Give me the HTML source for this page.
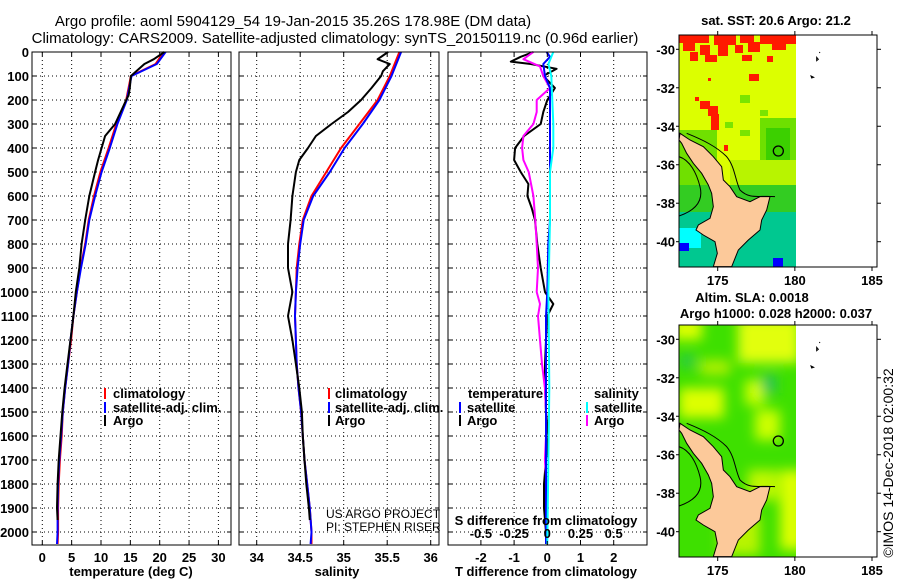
<!DOCTYPE html>
<html><head><meta charset="utf-8"><style>
html,body{margin:0;padding:0;background:#fff;}
svg{display:block;font-family:"Liberation Sans",sans-serif;}
.t{font-size:13px;font-weight:bold;fill:#000;}
.ttl{font-size:15px;fill:#000;}
</style></head><body>
<svg id="fig" width="900" height="580" viewBox="0 0 900 580" xmlns="http://www.w3.org/2000/svg">
<defs>
<clipPath id="mapclip1"><rect x="679" y="35" width="117" height="232"/></clipPath>
<clipPath id="mapclip2"><rect x="679" y="325" width="117" height="232"/></clipPath>
<filter id="blur" x="-20%" y="-20%" width="140%" height="140%"><feGaussianBlur stdDeviation="6"/></filter>
</defs>
<text class="ttl" x="293" y="26" text-anchor="middle">Argo profile: aoml 5904129_54 19-Jan-2015 35.26S 178.98E (DM data)</text>
<text class="ttl" x="335" y="43" text-anchor="middle">Climatology: CARS2009. Satellite-adjusted climatology: synTS_20150119.nc (0.96d earlier)</text>

<g id="grids"></g>
<g id="series"></g>
<g id="axes"></g>

<g>
<rect x="104" y="388" width="2" height="11" fill="#f00"/><text class="t" x="113" y="398">climatology</text>
<rect x="104" y="402" width="2" height="11" fill="#00f"/><text class="t" x="113" y="412">satellite-adj. clim.</text>
<rect x="104" y="415" width="2" height="11" fill="#000"/><text class="t" x="113" y="425">Argo</text>
</g>
<g>
<rect x="328" y="388" width="2" height="11" fill="#f00"/><text class="t" x="335" y="398">climatology</text>
<rect x="328" y="402" width="2" height="11" fill="#00f"/><text class="t" x="335" y="412">satellite-adj. clim.</text>
<rect x="328" y="415" width="2" height="11" fill="#000"/><text class="t" x="335" y="425">Argo</text>
</g>
<text x="326" y="518" style="font-size:12px">US ARGO PROJECT</text>
<text x="326" y="531" style="font-size:12px">PI: STEPHEN RISER</text>
<g>
<text class="t" x="468" y="398">temperature</text>
<rect x="459" y="402" width="2" height="11" fill="#00f"/><text class="t" x="467" y="412">satellite</text>
<rect x="459" y="415" width="2" height="11" fill="#000"/><text class="t" x="467" y="425">Argo</text>
<text class="t" x="594" y="398">salinity</text>
<rect x="586" y="402" width="2" height="11" fill="#0ff"/><text class="t" x="594" y="412">satellite</text>
<rect x="586" y="415" width="2" height="11" fill="#f0f"/><text class="t" x="594" y="425">Argo</text>
</g>

<text class="t" x="776" y="25" text-anchor="middle">sat. SST: 20.6 Argo: 21.2</text>
<g clip-path="url(#mapclip1)">
<rect x="679" y="35" width="117" height="232" fill="#dcff00"/>
<g fill="#ff1a00">
<rect x="679" y="35" width="30" height="8"/><rect x="714" y="35" width="22" height="10"/><rect x="740" y="35" width="14" height="8"/><rect x="760" y="35" width="36" height="9"/>
<rect x="683" y="43" width="12" height="8"/><rect x="700" y="45" width="10" height="10"/><rect x="718" y="44" width="10" height="12"/><rect x="735" y="45" width="8" height="8"/><rect x="748" y="42" width="12" height="10"/><rect x="772" y="44" width="14" height="6"/>
<rect x="690" y="52" width="8" height="9"/><rect x="705" y="55" width="12" height="7"/><rect x="742" y="55" width="10" height="6"/><rect x="767" y="56" width="6" height="6"/>
<rect x="749" y="74" width="10" height="7"/><rect x="708" y="78" width="3" height="3"/>
<rect x="700" y="101" width="10" height="8"/><rect x="708" y="106" width="10" height="10"/><rect x="711" y="114" width="8" height="16"/>
<rect x="695" y="97" width="4" height="4"/><rect x="724" y="145" width="4" height="6"/>
</g>
<g fill="#7ae400">
<rect x="740" y="95" width="10" height="8"/><rect x="725" y="122" width="8" height="6"/><rect x="760" y="110" width="8" height="6"/><rect x="740" y="130" width="10" height="6"/>
</g>
<rect x="760" y="118" width="36" height="52" fill="#6ee000"/>
<rect x="766" y="128" width="24" height="38" fill="#3cd000"/>
<rect x="679" y="130" width="38" height="60" fill="#70e000"/>
<rect x="730" y="160" width="66" height="30" fill="#b8f400"/>
<rect x="679" y="185" width="117" height="82" fill="#33cc22"/>
<rect x="679" y="212" width="117" height="55" fill="#00c890"/>
<rect x="679" y="228" width="22" height="20" fill="#00ffff"/>
<rect x="679" y="243" width="10" height="8" fill="#0000ff"/>
<rect x="773" y="258" width="10" height="9" fill="#0000ff"/>
<g transform="translate(660,0) scale(0.33333)">
<path d="M60,400 L90,420 L130,440 L160,470 L185,500 L190,540 L210,560 L230,590 L270,605 L300,590 L330,590 L320,630 L305,660 L300,690 L265,720 L235,750 L215,800 L160,800 L172,760 L165,725 L130,705 L108,690 L115,675 L150,655 L160,620 L155,580 L145,555 L125,520 L100,490 L80,460 L65,430 L57,420 Z" fill="#fcc99a" stroke="#000" stroke-width="3"/>
<path d="M57,470 C90,480 110,520 120,560 C130,600 110,630 57,648" fill="none" stroke="#000" stroke-width="3"/>
<path d="M80,400 C130,420 170,440 200,470 C225,500 225,540 240,570 C270,600 300,585 345,590" fill="none" stroke="#000" stroke-width="3"/>
<circle cx="355" cy="453" r="15" fill="none" stroke="#000" stroke-width="4"/>
</g>
</g>
<g transform="translate(660,0) scale(0.33333)">
<path d="M470,172 l5,6 l-5,4 z M478,156 l2,3 M453,228 l8,4 l-6,2 z" fill="none" stroke="#000" stroke-width="3"/>
</g>
<rect x="679" y="35" width="198" height="232" fill="none" stroke="#000"/>
<g id="mapaxes"></g>

<text class="t" x="752" y="302" text-anchor="middle">Altim. SLA: 0.0018</text>
<text class="t" x="776" y="318" text-anchor="middle">Argo h1000: 0.028 h2000: 0.037</text>
<g clip-path="url(#mapclip2)">
<rect x="679" y="325" width="117" height="232" fill="#3ee000"/>
<g filter="url(#blur)">
<rect x="672" y="318" width="30" height="22" fill="#ddff00"/>
<rect x="738" y="318" width="62" height="45" fill="#e2ff10"/>
<rect x="679" y="388" width="45" height="30" fill="#ddff00"/>
<rect x="745" y="380" width="20" height="25" fill="#ccff00"/>
<rect x="700" y="360" width="30" height="15" fill="#b0f000"/>
<rect x="780" y="470" width="25" height="80" fill="#ddff00"/>
<rect x="748" y="470" width="30" height="30" fill="#c0f800"/>
<rect x="720" y="515" width="40" height="40" fill="#b8f400"/>
<rect x="755" y="410" width="25" height="30" fill="#ccff00"/>
<rect x="762" y="375" width="14" height="18" fill="#20c060"/>
<rect x="680" y="355" width="15" height="12" fill="#28c850"/>
</g>
<g transform="translate(660,290) scale(0.33333)">
<path d="M60,400 L90,420 L130,440 L160,470 L185,500 L190,540 L210,560 L230,590 L270,605 L300,590 L330,590 L320,630 L305,660 L300,690 L265,720 L235,750 L215,800 L160,800 L172,760 L165,725 L130,705 L108,690 L115,675 L150,655 L160,620 L155,580 L145,555 L125,520 L100,490 L80,460 L65,430 L57,420 Z" fill="#fcc99a" stroke="#000" stroke-width="3"/>
<path d="M57,470 C90,480 110,520 120,560 C130,600 110,630 57,648" fill="none" stroke="#000" stroke-width="3"/>
<path d="M80,400 C130,420 170,440 200,470 C225,500 225,540 240,570 C270,600 300,585 345,590" fill="none" stroke="#000" stroke-width="3"/>
<circle cx="355" cy="453" r="15" fill="none" stroke="#000" stroke-width="4"/>
</g>
</g>
<g transform="translate(660,290) scale(0.33333)">
<path d="M470,172 l5,6 l-5,4 z M478,156 l2,3 M453,228 l8,4 l-6,2 z" fill="none" stroke="#000" stroke-width="3"/>
</g>
<rect x="679" y="325" width="198" height="232" fill="none" stroke="#000"/>
<text x="893" y="463" transform="rotate(-90 893 463)" text-anchor="middle" style="font-size:14px">©IMOS 14-Dec-2018 02:00:32</text>
</svg>
<script>
// ---- data ----
const climDepths=[0,50,100,200,300,400,500,600,700,800,900,1000,1100,1200,1300,1400,1500,1600,1700,1800,1900,2000,2050];
const tClim=[20.7,19.3,15.1,14.3,12.6,11.3,9.9,8.8,7.9,7.3,6.5,5.9,5.3,4.9,4.4,3.9,3.5,3.3,3.0,2.8,2.7,2.7,2.6];
const tSat=[21.0,19.5,15.2,14.4,12.8,11.5,10.1,9.0,8.0,7.4,6.6,5.9,5.3,4.8,4.4,3.9,3.5,3.2,2.9,2.7,2.6,2.6,2.5];
const tArgoDepths=[0,30,50,100,150,180,200,300,350,400,450,500,600,700,800,900,1000,1100,1200,1300,1400,1500,1600,1700,1800,1900,1950];
const tArgo=[20.8,19.0,17.4,15.1,14.9,14.7,14.3,12.4,10.7,10.1,9.5,9.0,8.0,7.3,6.7,6.3,5.7,5.3,4.8,4.3,3.8,3.4,3.1,2.8,2.6,2.5,2.6];
const sDepths=[0,100,200,300,400,500,600,700,800,900,1000,1100,1200,1300,1400,1500,1600,1700,1800,1900,2000,2050];
const sClim=[35.64,35.53,35.39,35.18,34.97,34.80,34.63,34.53,34.49,34.46,34.45,34.44,34.45,34.46,34.48,34.51,34.53,34.55,34.58,34.61,34.63,34.63];
const sSat=[35.66,35.55,35.41,35.22,35.01,34.84,34.65,34.54,34.50,34.47,34.45,34.44,34.45,34.46,34.48,34.51,34.53,34.55,34.58,34.61,34.63,34.62];
const sArgoDepths=[0,30,50,80,100,150,200,250,300,350,400,450,500,600,700,800,900,1000,1100,1200,1300,1400,1500,1600,1700,1800,1900,1950];
const sArgo=[35.51,35.39,35.53,35.45,35.43,35.32,35.20,35.05,34.86,34.68,34.59,34.49,34.45,34.41,34.39,34.36,34.36,34.41,34.36,34.41,34.45,34.49,34.52,34.53,34.55,34.57,34.60,34.61];
const dtArgoDepths=[0,20,40,50,70,100,150,200,250,300,350,400,450,500,550,600,650,700,800,900,1000,1050,1100,1200,1300,1400,1500,1600,1700,1800,1900,2000,2050];
const dtArgo=[-0.42,-0.8,-1.1,-0.5,0.28,-0.12,0.23,0,-0.12,-0.2,-0.7,-0.97,-1.0,-0.8,-0.57,-0.6,-0.47,-0.37,-0.3,-0.2,-0.07,0.18,0,-0.04,-0.07,-0.07,-0.04,0.03,-0.04,-0.1,-0.1,-0.04,-0.02];
const dtSatDepths=[0,20,50,100,150,200,400,700,800,1000,1100,2050];
const dtSat=[-0.02,0.08,-0.12,-0.07,0.08,0.08,0.08,0.08,0.03,0,-0.04,-0.04];
const dsSatDepths=[0,50,100,300,400,500,700,1000,1400,2050];
const dsSat=[0.045,0.008,0.03,0.045,0.045,0.02,0.02,0.008,0.015,0.0];
const dsArgoDepths=[0,30,60,100,150,200,250,300,350,400,450,500,600,700,800,900,1000,1050,1100,1200,1300,1400,1500,1600,1700,1800,1900,2000];
const dsArgo=[-0.105,-0.18,-0.055,-0.03,0.02,-0.08,-0.08,-0.105,-0.18,-0.19,-0.18,-0.14,-0.105,-0.09,-0.08,-0.07,-0.08,-0.055,-0.07,-0.055,-0.04,-0.018,-0.01,-0.01,-0.018,-0.005,-0.01,-0.01];
const depthTicks=[0,100,200,300,400,500,600,700,800,900,1000,1100,1200,1300,1400,1500,1600,1700,1800,1900,2000];
const tTicks=[0,5,10,15,20,25,30];
const sTicks=[34,34.5,35,35.5,36];
const sTickLabels=["34","34.5","35","35.5","36"];
const dtTicks=[-2,-1,0,1,2];
const dsTicks=[-0.5,-0.25,0,0.25,0.5];
const dsTickLabels=["-0.5","-0.25","0","0.25","0.5"];
const latTicks=[-30,-32,-34,-36,-38,-40];
const lonTicks=[175,180,185];

// ---- scales ----
const TOP=52, BOT=545;
const yD=d=>TOP+d*0.24;
const xT=v=>42.3+v*5.87;
const xS=v=>256.7+(v-34)*87;
const xDT=v=>547.3+v*33.2;
const xDS=v=>547.3+v*132.8;
const panels=[{x0:32,x1:231,name:'temperature'},{x0:239,x1:439,name:'salinity'},{x0:448,x1:647,name:'difference'}];
const NS='http://www.w3.org/2000/svg';
function mk(tag,attrs,parent){const e=document.createElementNS(NS,tag);for(const k in attrs)e.setAttribute(k,attrs[k]);parent.appendChild(e);return e;}
const grids=document.getElementById('grids'), series=document.getElementById('series'), axes=document.getElementById('axes');

panels.forEach(p=>{
  depthTicks.forEach(d=>{
    const l=mk('line',{x1:p.x0,x2:p.x1,y1:yD(d),y2:yD(d),stroke:'#000','stroke-dasharray':'1,3','stroke-width':1},grids);
    
    
    mk('line',{x1:p.x0,x2:p.x0+4,y1:yD(d),y2:yD(d),stroke:'#000'},axes);
    mk('line',{x1:p.x1-4,x2:p.x1,y1:yD(d),y2:yD(d),stroke:'#000'},axes);
  });
  const r=mk('rect',{x:p.x0,y:TOP,width:p.x1-p.x0,height:BOT-TOP,fill:'none',stroke:'#000'},axes);
  
  
});
function vgrid(vals,fx,labels,ly,nm){
  vals.forEach((v,i)=>{
    const x=fx(v);
    const g=mk('line',{x1:x,x2:x,y1:TOP,y2:BOT,stroke:'#000','stroke-dasharray':'1,3'},grids);
    
    
    mk('line',{x1:x,x2:x,y1:BOT-4,y2:BOT,stroke:'#000'},axes);
    mk('line',{x1:x,x2:x,y1:TOP,y2:TOP+4,stroke:'#000'},axes);
    const t=mk('text',{x:x,y:ly,'text-anchor':'middle',class:'t'},axes);
    t.textContent=labels?labels[i]:String(v);
    
    
  });
}
vgrid(tTicks,xT,null,562,'temperature');
vgrid(sTicks,xS,sTickLabels,562,'salinity');
vgrid(dtTicks,xDT,null,562,'t-difference');
dsTicks.forEach((v,i)=>{
  const t=mk('text',{x:xDS(v),y:538,'text-anchor':'middle',class:'t'},axes);
  t.textContent=dsTickLabels[i];
  
  
});
depthTicks.forEach(d=>{
  const t=mk('text',{x:29,y:yD(d)+5,'text-anchor':'end',class:'t'},axes);
  t.textContent=String(d);
  
  
});
[['temperature (deg C)',131,576,'temperature-axis-title'],['salinity',337,576,'salinity-axis-title'],['T difference from climatology',546,576,'t-difference-axis-title'],['S difference from climatology',546,525,'s-difference-axis-title']].forEach(a=>{
  const t=mk('text',{x:a[1],y:a[2],'text-anchor':'middle',class:'t'},axes);
  t.textContent=a[0];
  
  
});

function line(depths,vals,fx,color,nm){
  const pts=depths.map((d,i)=>fx(vals[i]).toFixed(1)+','+yD(d).toFixed(1)).join(' ');
  const l=mk('polyline',{points:pts,fill:'none',stroke:color,'stroke-width':2,'stroke-linejoin':'round'},series);
  
  
}
line(climDepths,tClim,xT,'#ff0000','temperature-climatology-line');
line(climDepths,tSat,xT,'#0000ff','temperature-satellite-line');
line(tArgoDepths,tArgo,xT,'#000000','temperature-argo-line');
line(sDepths,sClim,xS,'#ff0000','salinity-climatology-line');
line(sDepths,sSat,xS,'#0000ff','salinity-satellite-line');
line(sArgoDepths,sArgo,xS,'#000000','salinity-argo-line');
line(dtArgoDepths,dtArgo,xDT,'#000000','t-difference-argo-line');
line(dsArgoDepths,dsArgo,xDS,'#ff00ff','s-difference-argo-line');
line(dtSatDepths,dtSat,xDT,'#0000ff','t-difference-satellite-line');
line(dsSatDepths,dsSat,xDS,'#00ffff','s-difference-satellite-line');

const mapAx=document.getElementById('mapaxes');
const latY=(v,off)=>off+49.3+(-30-v)*19.24;
const lonX=v=>717.7+(v-175)*15.43;
[0,290].forEach(off=>{
  latTicks.forEach(v=>{
    const y=latY(v,off);
    mk('line',{x1:679,x2:676,y1:y,y2:y,stroke:'#000'},mapAx);
    mk('line',{x1:877,x2:881,y1:y,y2:y,stroke:'#000'},mapAx);
    const t=mk('text',{x:675,y:y+5,'text-anchor':'end',class:'t'},mapAx);
    t.textContent=String(v);
    
    
  });
  lonTicks.forEach(v=>{
    const x=lonX(v);
    mk('line',{x1:x,x2:x,y1:off+267,y2:off+271,stroke:'#000'},mapAx);
    mk('line',{x1:x,x2:x,y1:off+35,y2:off+31,stroke:'#000'},mapAx);
    const t=mk('text',{x:x,y:off+285,'text-anchor':'middle',class:'t'},mapAx);
    t.textContent=String(v);
    
    
  });
});
</script>
</body></html>
